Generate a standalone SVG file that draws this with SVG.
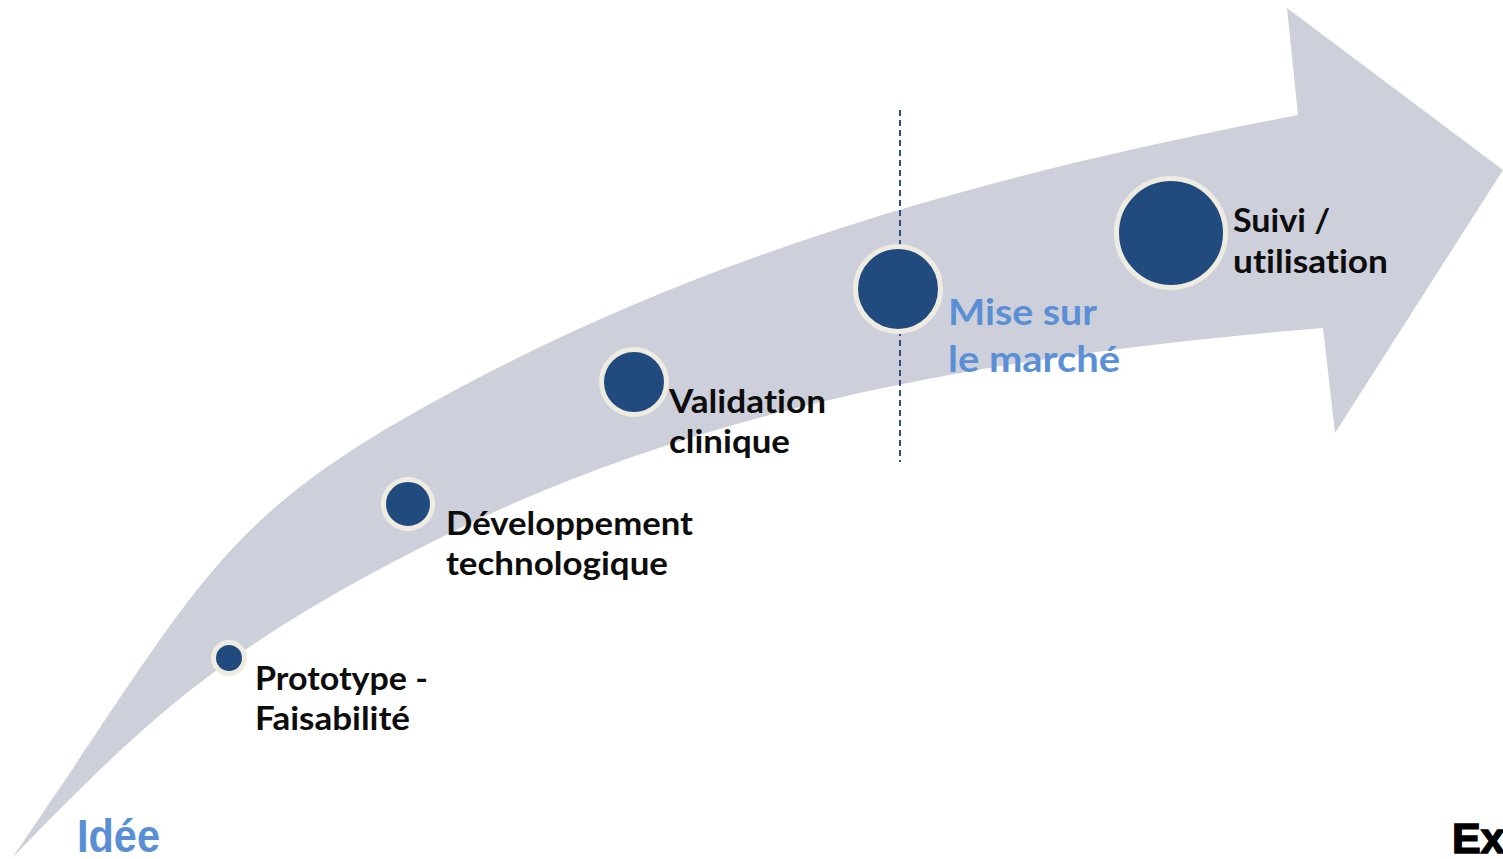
<svg xmlns="http://www.w3.org/2000/svg" width="1503" height="859" viewBox="0 0 1503 859">
  <style>
    .band { fill: #CDD0DA; }
    .dot { fill: #214A7E; stroke: #EEEBE1; stroke-width: 5; }
    .lbl { font-family: Lato, "Open Sans", "Liberation Sans", sans-serif; font-weight: bold; font-size: 32px; fill: #0D0D0D; font-variant-ligatures: none; }
    .blue { font-family: Lato, "Open Sans", "Liberation Sans", sans-serif; font-weight: bold; font-size: 36px; fill: #5A8FD6; font-variant-ligatures: none; }
    .sep { stroke: #2F4F7F; stroke-width: 2; stroke-dasharray: 6 4; fill: none; }
  </style>
  <rect width="1503" height="859" fill="#FFFFFF"/>
  <g id="arrow">
    <path class="band" d="M12,858 C210.8,570 213.9,515.6 480,377 C701.8,261.5 954.3,180.5 1298,115 L1287,8 L1503,170 L1335,433 L1323,328 C1024,352.6 718.8,399.8 450,533 C226,644 151.4,714.6 12,858 Z"/>
  </g>
  <g id="separator">
    <line class="sep" x1="900" y1="110" x2="900" y2="462"/>
  </g>
  <g id="node-prototype">
    <circle class="dot" cx="229" cy="658" r="15.5"/>
    <text class="lbl" x="255" y="690" textLength="173" lengthAdjust="spacingAndGlyphs">Prototype -</text>
    <text class="lbl" x="255" y="730" textLength="155" lengthAdjust="spacingAndGlyphs">Faisabilité</text>
  </g>
  <g id="node-developpement">
    <circle class="dot" cx="408" cy="504" r="24.5"/>
    <text class="lbl" x="446" y="535" textLength="247" lengthAdjust="spacingAndGlyphs">Développement</text>
    <text class="lbl" x="446" y="575" textLength="222" lengthAdjust="spacingAndGlyphs">technologique</text>
  </g>
  <g id="node-validation">
    <circle class="dot" cx="634" cy="382" r="32.5"/>
    <text class="lbl" x="669" y="413" textLength="157" lengthAdjust="spacingAndGlyphs">Validation</text>
    <text class="lbl" x="669" y="453" textLength="121" lengthAdjust="spacingAndGlyphs">clinique</text>
  </g>
  <g id="node-marche">
    <circle class="dot" cx="898" cy="289" r="42.5"/>
    <text class="blue" x="948" y="325" textLength="149" lengthAdjust="spacingAndGlyphs">Mise sur</text>
    <text class="blue" x="948" y="372" textLength="172" lengthAdjust="spacingAndGlyphs">le marché</text>
  </g>
  <g id="node-suivi">
    <circle class="dot" cx="1171" cy="233" r="54.5"/>
    <text class="lbl" x="1233" y="232" textLength="97" lengthAdjust="spacingAndGlyphs">Suivi /</text>
    <text class="lbl" x="1233" y="273" textLength="155" lengthAdjust="spacingAndGlyphs">utilisation</text>
  </g>
  <g id="node-idee">
    <text x="77" y="852" font-family="'Liberation Sans', Arial, sans-serif" font-weight="bold" font-size="46" fill="#5A8FD6" textLength="83" lengthAdjust="spacingAndGlyphs">Idée</text>
  </g>
  <g id="node-ex">
    <text x="1452" y="853" font-family="'Liberation Sans', Arial, sans-serif" font-weight="bold" font-size="43" fill="#000000" stroke="#000000" stroke-width="1.5">Ex</text>
  </g>
</svg>
